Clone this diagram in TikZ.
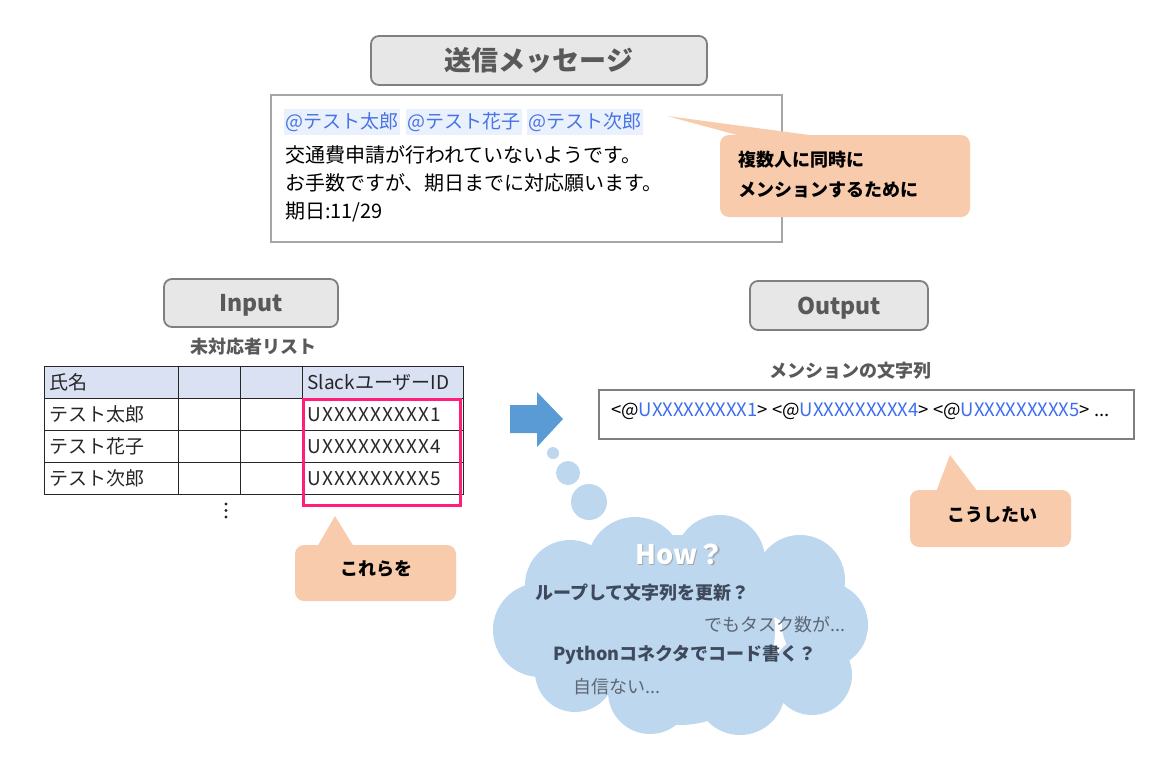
\documentclass[tikz,border=0pt]{standalone}
\usepackage{fontspec}
\setmainfont{Noto Sans CJK JP}
\usetikzlibrary{shapes.symbols}
\definecolor{boxgray}{HTML}{E7E7E7}
\definecolor{bordergray}{HTML}{7F7F7F}
\definecolor{msgborder}{HTML}{A6A6A6}
\definecolor{titlegray}{HTML}{595959}
\definecolor{peach}{HTML}{F8CBAD}
\definecolor{mentionblue}{HTML}{4A72E6}
\definecolor{mentionbg}{HTML}{E9F2FC}
\definecolor{idblue}{HTML}{3D6DF0}
\definecolor{hdrblue}{HTML}{D9E1F2}
\definecolor{selpink}{HTML}{FF1F7A}
\definecolor{arrowblue}{HTML}{5B9BD5}
\definecolor{cloudblue}{HTML}{BDD7EE}
\definecolor{clouddark}{HTML}{3E4A5C}
\definecolor{cloudlight}{HTML}{5E6672}
\newcommand\fsz[1]{\fontsize{#1}{#1}\selectfont}
\tikzset{
  graybox/.style={draw=bordergray, line width=1.8, fill=boxgray, rounded corners=8, text=titlegray, inner sep=0},
  boxlabel/.style={font=\fsz{23}\bfseries, text=titlegray, inner sep=0},
  peachbox/.style={fill=peach, rounded corners=9, inner sep=0},
  mention/.style={fill=mentionbg, text=mentionblue, inner xsep=1.5, inner ysep=3, font=\fsz{19}, anchor=west},
  msgtext/.style={anchor=west, inner sep=0, font=\fsz{20}, text=black},
  cell/.style={draw=black!85, line width=0.9, minimum height=32, inner xsep=5, inner ysep=0, anchor=north west, font=\fsz{19}, text=black!85, align=left, text width=#1-10},
  idcell/.style={cell=#1, font=\fsz{19}\addfontfeature{LetterSpace=6}},
  subtitle/.style={font=\fsz{18}\bfseries, text=titlegray, inner sep=0},
  calltext/.style={font=\fsz{18}\bfseries, text=black, inner sep=0},
  cloudbold/.style={font=\fsz{18}\bfseries, text=clouddark, inner sep=0},
  cloudthin/.style={font=\fsz{18}, text=cloudlight, inner sep=0},
}
\begin{document}
\begin{tikzpicture}[x=1pt,y=-1pt]
\useasboundingbox (0,0) rectangle (1167,758);
% title
\node[graybox, minimum width=336, minimum height=49, font=\fsz{27}\bfseries] (title) at (539,60.5) {送信メッセージ};
% message box
\node[draw=msgborder, line width=1.5, minimum width=511, minimum height=147, inner sep=0] (msg) at (526.5,168.5) {};
\node[mention] (m1) at (284,122) {@テスト太郎};
\node[mention] (m2) at ([xshift=5]m1.east) {@テスト花子};
\node[mention] (m3) at ([xshift=5]m2.east) {@テスト次郎};
\node[msgtext] (l1) at (285,155) {交通費申請が行われていないようです。};
\node[msgtext] (l2) at (285,183) {お手数ですが、期日までに対応願います。};
\node[msgtext] (l3) at (285,212) {期日:11/29};
% callout 1
\fill[peach] (667,116) -- (832,138) -- (748,138) -- cycle;
\node[peachbox, minimum width=250, minimum height=82] (c1) at (845,176) {};
\node[calltext, anchor=west, align=left, font=\fontsize{18}{30}\selectfont\bfseries] (c1t) at (738,175) {複数人に同時に\\メンションするために};
% input
\node[graybox, minimum width=174, minimum height=48] (input) at (251,303) {};
\node[boxlabel] (inputt) at (251,305.5) {Input};
\node[subtitle] (listt) at (253,347) {未対応者リスト};
% table
\node[cell=134, fill=hdrblue] (h1) at (44,366) {氏名};
\node[cell=62, fill=hdrblue] (h2) at (178,366) {};
\node[cell=62, fill=hdrblue] (h3) at (240,366) {};
\node[cell=161, fill=hdrblue] (h4) at (302,366) {SlackユーザーID};
\node[cell=134] (a1) at (44,398) {テスト太郎};
\node[cell=62] (a2) at (178,398) {};
\node[cell=62] (a3) at (240,398) {};
\node[idcell=161] (a4) at (302,398) {UXXXXXXXXX1};
\node[cell=134] (b1) at (44,430) {テスト花子};
\node[cell=62] (b2) at (178,430) {};
\node[cell=62] (b3) at (240,430) {};
\node[idcell=161] (b4) at (302,430) {UXXXXXXXXX4};
\node[cell=134] (d1) at (44,462) {テスト次郎};
\node[cell=62] (d2) at (178,462) {};
\node[cell=62] (d3) at (240,462) {};
\node[idcell=161] (d4) at (302,462) {UXXXXXXXXX5};
\node[draw=selpink, line width=2.5, minimum width=157, minimum height=106, anchor=north west, inner sep=0] (sel) at (302,398) {};
\fill[black!85] (226,504) circle (1.7) (226,510.5) circle (1.7) (226,517) circle (1.7);
% callout 2
\fill[peach] (335,516) -- (354,547) -- (317,547) -- cycle;
\node[peachbox, minimum width=161, minimum height=56] (c2) at (375.5,573) {};
\node[calltext] (c2t) at (376,569) {これらを};
% output
\node[graybox, minimum width=178, minimum height=49] (output) at (839,305.5) {};
\node[boxlabel] (outputt) at (839,308) {Output};
\node[subtitle] (strt) at (850,371) {メンションの文字列};
\node[draw=bordergray, line width=2, minimum width=535, minimum height=49, inner sep=0] (outbox) at (866.5,414.5) {};
\node[anchor=west, inner sep=0, font=\fsz{18.5}, text=black] (outtext) at (611,411) {<@\textcolor{idblue}{UXXXXXXXXX1}> <@\textcolor{idblue}{UXXXXXXXXX4}> <@\textcolor{idblue}{UXXXXXXXXX5}> ...};
% callout 3
\fill[peach] (950,455) -- (978,492) -- (936,492) -- cycle;
\node[peachbox, minimum width=161, minimum height=57] (c3) at (990.5,518.5) {};
\node[calltext] (c3t) at (992,515) {こうしたい};
% arrow
\fill[arrowblue] (510,405) -- (537,405) -- (537,392) -- (563,419) -- (537,447) -- (537,433) -- (510,433) -- cycle;
% thought bubbles
\fill[cloudblue] (553,453) circle (6) (568,473) circle (12) (589,502) circle (18);
% cloud
\fill[cloudblue]
  (570,585) circle (45) (635,565) circle (48) (720,560) circle (45)
  (800,580) circle (45) (825,625) circle (43) (812,675) circle (40)
  (740,690) circle (45) (650,692) circle (42) (575,672) circle (40)
  (540,630) circle (47) (680,630) circle (95);
\node[inner sep=0, minimum width=370, minimum height=215] (cloud) at (680,625) {};
\node[font=\fsz{27}\bfseries, text=black!45, opacity=0.6, inner sep=0] (howsh) at (681.5,555.5) {How？};
\node[font=\fsz{27}\bfseries, text=white, inner sep=0] (how) at (680,554) {How？};
\node[cloudbold, anchor=west] (q1) at (535,593) {ループして文字列を更新？};
\node[cloudthin, anchor=east] (r1) at (846,625) {でもタスク数が...};
\node[cloudbold, anchor=west] (q2) at (553,655) {Pythonコネクタでコード書く？};
\node[cloudthin, anchor=west] (r2) at (573,687) {自信ない...};
\end{tikzpicture}
\end{document}
